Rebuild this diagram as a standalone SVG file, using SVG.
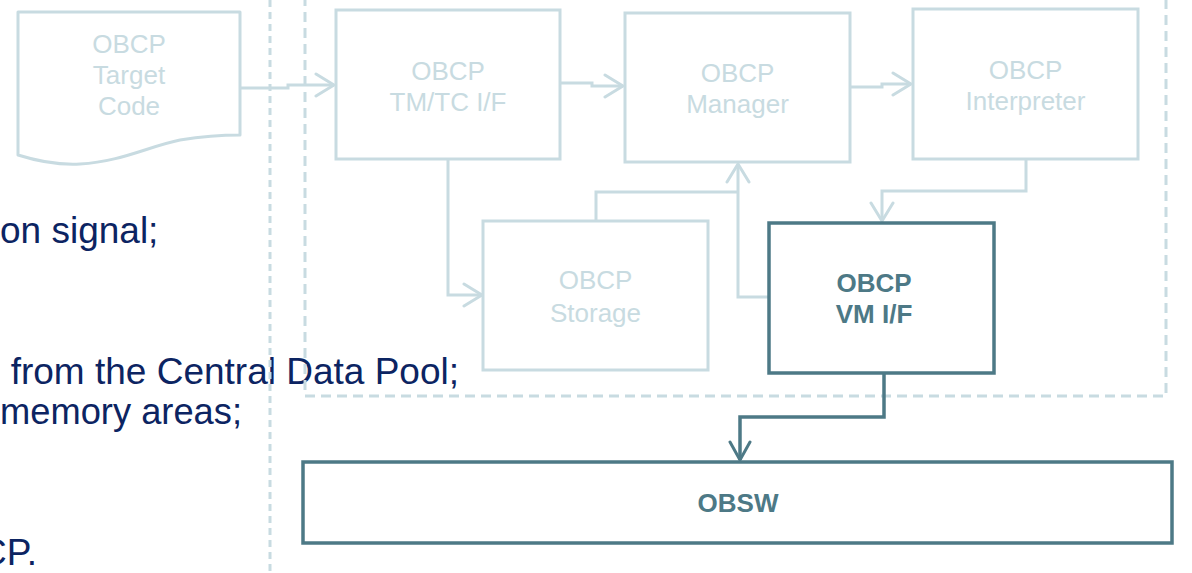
<svg xmlns="http://www.w3.org/2000/svg" width="1192" height="573" viewBox="0 0 1192 573">
  <style>
    .light { fill: none; stroke: #c8dbe1; stroke-width: 3; }
    .dark { fill: none; stroke: #4d7986; stroke-width: 3.5; }
    .box { fill: #ffffff; }
    .lbl { font-family: "Liberation Sans", Arial, sans-serif; font-size: 26px; fill: #c8dbe1; text-anchor: middle; }
    .blbl { font-family: "Liberation Sans", Arial, sans-serif; font-size: 26px; font-weight: bold; fill: #4d7986; text-anchor: middle; }
    .note { font-family: "Liberation Sans", Arial, sans-serif; font-size: 37px; fill: #0c2462; }
    .frame { fill: none; stroke: #c8dbe1; stroke-width: 3; stroke-dasharray: 10 6; }
    .sep { fill: none; stroke: #c8dbe1; stroke-width: 3; stroke-dasharray: 7 5; }
  </style>
  <defs>
    <marker id="arrLight" viewBox="-20 -13 22 26" markerWidth="22" markerHeight="26" refX="0" refY="0" orient="auto" markerUnits="userSpaceOnUse">
      <path d="M-18,-11 L0,0 L-18,11" fill="none" stroke="#c8dbe1" stroke-width="3" stroke-linecap="round"/>
    </marker>
    <marker id="arrDark" viewBox="-20 -13 22 26" markerWidth="22" markerHeight="26" refX="0" refY="0" orient="auto" markerUnits="userSpaceOnUse">
      <path d="M-18,-10 L0,0 L-18,10" fill="none" stroke="#4d7986" stroke-width="3" stroke-linecap="round"/>
    </marker>
  </defs>

  <rect width="1192" height="573" fill="#ffffff"/>

  <!-- bullet text, continued from the left column -->
  <g id="notes">
    <text class="note" x="0" y="243">on signal;</text>
    <text class="note" x="459" y="384" text-anchor="end">from the Central Data Pool;</text>
    <text class="note" x="0" y="424" textLength="242" lengthAdjust="spacingAndGlyphs">memory areas;</text>
    <text class="note" x="37" y="565" text-anchor="end">CP.</text>
  </g>

  <!-- column separator and OBCP engine frame -->
  <g id="separators">
    <line class="sep" x1="270" y1="0" x2="270" y2="573"/>
    <path class="frame" d="M305,-20 V396 H1166 V-20"/>
  </g>

  <!-- connectors -->
  <g id="connectors">
    <path class="light" d="M240,88 H288 V85 H334" marker-end="url(#arrLight)"/>
    <path class="light" d="M560,83 H592 V86 H623" marker-end="url(#arrLight)"/>
    <path class="light" d="M850,87 H882 V84 H911" marker-end="url(#arrLight)"/>
    <path class="light" d="M448,159 V295 H482" marker-end="url(#arrLight)"/>
    <path class="light" d="M596,221 V192 H738"/>
    <path class="light" d="M769,297 H738 V164" marker-end="url(#arrLight)"/>
    <path class="light" d="M1026,159 V191 H882 V221" marker-end="url(#arrLight)"/>
    <path class="dark" d="M884,373 V417 H740 V460" marker-end="url(#arrDark)"/>
  </g>

  <g id="target-code">
    <path class="light box" d="M18,12 H240 V135 C225,135 205,136 180,140 C150,146 120,162 80,164 C60,165 40,162 18,155 Z" stroke-linejoin="round"/>
    <text class="lbl" x="129" y="53">OBCP</text>
    <text class="lbl" x="129" y="84">Target</text>
    <text class="lbl" x="129" y="115">Code</text>
  </g>

  <g id="tmtc-if">
    <rect class="light box" x="336" y="10" width="224" height="149"/>
    <text class="lbl" x="448" y="80">OBCP</text>
    <text class="lbl" x="448" y="111">TM/TC I/F</text>
  </g>

  <g id="manager">
    <rect class="light box" x="625" y="13" width="225" height="149"/>
    <text class="lbl" x="737.5" y="82">OBCP</text>
    <text class="lbl" x="737.5" y="113">Manager</text>
  </g>

  <g id="interpreter">
    <rect class="light box" x="913" y="9" width="225" height="150"/>
    <text class="lbl" x="1025.5" y="79">OBCP</text>
    <text class="lbl" x="1025.5" y="110">Interpreter</text>
  </g>

  <g id="storage">
    <rect class="light box" x="483" y="221" width="225" height="149"/>
    <text class="lbl" x="595.5" y="289">OBCP</text>
    <text class="lbl" x="595.5" y="322">Storage</text>
  </g>

  <g id="vm-if">
    <rect class="dark box" x="769" y="223" width="225" height="150"/>
    <text class="blbl" x="874" y="292">OBCP</text>
    <text class="blbl" x="874" y="323">VM I/F</text>
  </g>

  <g id="obsw">
    <rect class="dark box" x="303" y="462" width="869" height="81" stroke-width="4"/>
    <text class="blbl" x="738" y="512">OBSW</text>
  </g>
</svg>
